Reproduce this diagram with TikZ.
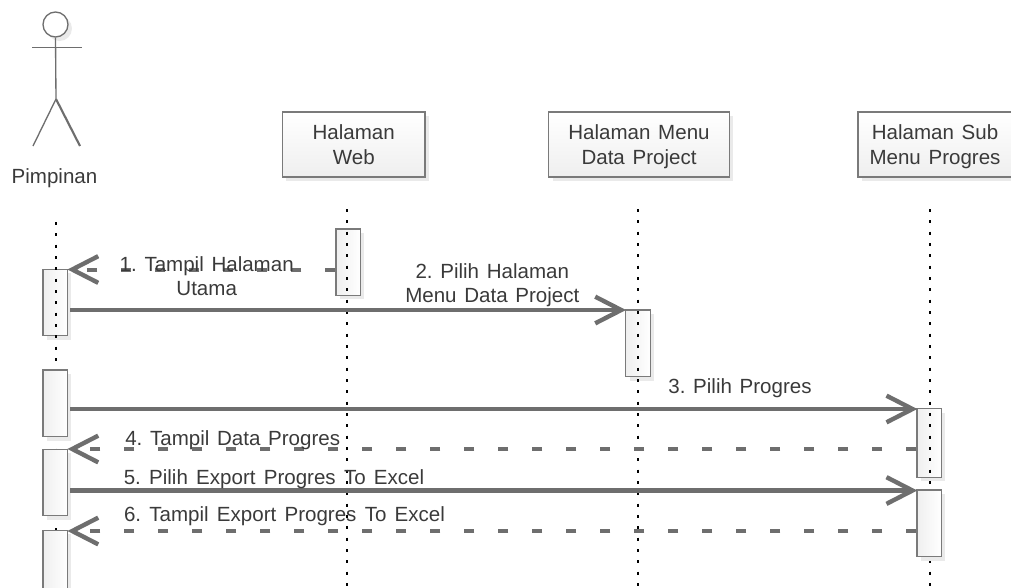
\documentclass[tikz,border=0pt]{standalone}
\usepackage{fontspec}
\setmainfont[WordSpace=1.35,PunctuationSpace=0]{Liberation Sans}
\newfontfamily\widefont[WordSpace=1.45,PunctuationSpace=0]{Liberation Sans}
\usetikzlibrary{arrows.meta,shadows,calc}
\definecolor{linegray}{HTML}{6E6E6E}
\definecolor{txtgray}{HTML}{3A3A3A}
\definecolor{boxedge}{HTML}{7A7A7A}
\definecolor{shade}{HTML}{EAEAEA}
\definecolor{fillgray}{HTML}{EFEFEF}
\tikzset{
  every node/.style={font=\fontsize{15.4pt}{18.4pt}\selectfont,text=txtgray},
  shadowed/.style={general shadow={shadow xshift=3pt,shadow yshift=-3pt,fill=shade}},
  headbox/.style={shadowed,draw=boxedge,line width=.9pt,top color=white,bottom color=fillgray,align=center,inner sep=0pt,minimum height=48.75pt,text depth=0pt},
  actbox/.style={shadowed,draw=boxedge,line width=.9pt,left color=fillgray,right color=white,inner sep=0pt,minimum width=18.4pt},
  life/.style={draw=black,line width=1.5pt,dash pattern=on 2.2pt off 6.3pt},
  msg/.style={draw=linegray,line width=3.3pt,shorten <=1.5pt,shorten >=-.75pt,-{Straight Barb[length=19.5pt,width=20pt,line width=3.3pt]}},
  reply/.style={draw=linegray,line width=3pt,shorten >=-.5pt,dash pattern=on 7.5pt off 18pt,-{Straight Barb[length=19.5pt,width=20pt,line width=3.3pt]}},
  actorline/.style={draw=linegray,line width=1pt},
  lbl/.style={align=center,inner sep=0pt,text depth=0pt},
  lblone/.style={inner sep=0pt,anchor=base},
  wide/.style={font=\widefont\fontsize{15.4pt}{18.4pt}\selectfont}
}
\begin{document}
\begin{tikzpicture}[x=0.75pt,y=-0.75pt]
\useasboundingbox (0,0) rectangle (1011,587);
% message levels
\coordinate (m1) at (0,269.5);
\coordinate (m2) at (0,310);
\coordinate (m3) at (0,409);
\coordinate (m4) at (0,449);
\coordinate (m5) at (0,490.5);
\coordinate (m6) at (0,531);
% actor
\node[shadowed,circle,draw=linegray,line width=1pt,fill=white,minimum size=18.75pt,inner sep=0pt] (head) at (55.5,24.5) {};
\coordinate (armL) at (32,47.5);
\coordinate (armR) at (82,47.5);
\coordinate (hip) at (56,99);
\coordinate (legL) at (33,146);
\coordinate (legR) at (80,146);
\draw[actorline] (armL) -- (armR);
\draw[actorline] (head.south) -- (hip);
\draw[actorline] (legL) -- (hip);
\draw[actorline,line width=1.6pt] (hip) -- (legR);
\node[lblone] (pimpinan) at (54.5,183) {Pimpinan};
% head boxes
\node[headbox,minimum width=106.9pt] (web) at (353.75,144.5) {Halaman\\Web};
\node[headbox,minimum width=135.4pt] (menu) at (639,144.5) {Halaman Menu\\Data Project};
\node[headbox,minimum width=115.5pt] (sub) at (935,144.5) {Halaman Sub\\Menu Progres};
% activations the lifeline shows through
\node[actbox,minimum height=49.8pt] (a1) at (55.2,302.5) {};
\node[actbox,minimum height=49.8pt] (w1) at (348.2,262.2) {};
\node[actbox,minimum height=50pt] (m1box) at (637.9,343.3) {};
\node[actbox,minimum height=51.4pt] (s1) at (929.2,443) {};
% lifelines (free ends)
\coordinate (lA) at (56,222);
\coordinate (lAend) at (56,587);
\coordinate (lW) at (347.3,209);
\coordinate (lWend) at (347.3,587);
\coordinate (lM) at (638.3,209);
\coordinate (lMend) at (638.3,587);
\coordinate (lS) at (930,209);
\coordinate (lSend) at (930,587);
\draw[life] (lA) -- (lAend);
\draw[life] (lW) -- (lWend);
\draw[life] (lM) -- (lMend);
\draw[life] (lS) -- (lSend);
% activations covering the lifeline
\node[actbox,minimum height=50pt] (a2) at (55.2,403.3) {};
\node[actbox,minimum height=49.8pt] (a3) at (55.2,482.5) {};
\node[actbox,minimum height=50pt] (a4) at (55.2,563.5) {};
\node[actbox,minimum height=50pt] (s2) at (929.2,523.3) {};
% messages
\draw[reply] (w1.west |- m1) -- (a1.east |- m1);
\draw[msg] (a1.east |- m2) -- (m1box.west |- m2);
\draw[msg] (a2.east |- m3) -- (s1.west |- m3);
\draw[reply] (s1.west |- m4) -- (a3.east |- m4);
\draw[msg] (a3.east |- m5) -- (s2.west |- m5);
\draw[reply] (s2.west |- m6) -- (a4.east |- m6);
% labels
\node[lbl] (t1) at (206.7,275.9) {1. Tampil Halaman\\Utama};
\node[lbl] (t2) at (492.3,282.9) {2. Pilih Halaman\\Menu Data Project};
\node[lblone] (t3) at (740,393) {3. Pilih Progres};
\node[lblone] (t4) at (232.7,445) {4. Tampil Data Progres};
\node[lblone,wide] (t5) at (274,484) {5. Pilih Export Progres To Excel};
\node[lblone,wide] (t6) at (284.5,521.7) {6. Tampil Export Progres To Excel};
\end{tikzpicture}
\end{document}
